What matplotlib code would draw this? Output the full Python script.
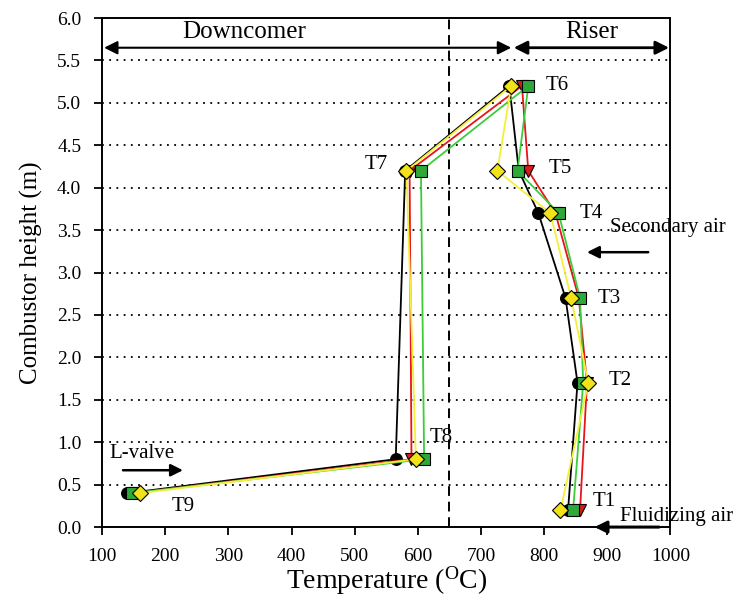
import matplotlib
matplotlib.use("Agg")
import matplotlib.pyplot as plt

# Sensor order along the loop: T9, T8, T7, T6, T5, T4, T3, T2, T1
labels = ["T9", "T8", "T7", "T6", "T5", "T4", "T3", "T2", "T1"]
height = [0.4, 0.8, 4.2, 5.2, 4.2, 3.7, 2.7, 1.7, 0.2]

temp_black = [140, 565, 580, 745, 760, 791, 834, 853, 838]
temp_red = [150, 590, 587, 765, 775, 818, 855, 868, 857]
temp_green = [148, 610, 605, 775, 758, 823, 857, 862, 846]
temp_yellow = [160, 597, 582, 748, 726, 810, 843, 870, 826]

label_x = [228, 637, 534, 821, 826, 875, 903, 921, 896]
label_y = [0.24, 1.05, 4.27, 5.21, 4.23, 3.70, 2.70, 1.73, 0.30]

serif = "Liberation Serif"
plt.rcParams["font.family"] = serif

fig = plt.figure(figsize=(7.35, 6.01), dpi=100)
ax = fig.add_axes([0.139, 0.123, 0.773, 0.847])

series = [
    (temp_black, "black", "o", "black", 8.5),
    (temp_red, "#e8141a", "v", "#d41c1c", 9),
    (temp_green, "#3ccc3c", "s", "#2fa83a", 8.5),
    (temp_yellow, "#f4f03a", "D", "#f2e21a", 8),
]
for i, (t, lc, m, fc, ms) in enumerate(series):
    ax.plot(t, height, color=lc, lw=1.3, marker=m, markerfacecolor=fc,
            markeredgecolor="black", markeredgewidth=0.8,
            markersize=ms, zorder=3 + i)

for lab, x, y in zip(labels, label_x, label_y):
    ax.text(x, y, lab, fontsize=15, ha="center", va="center", zorder=10)

ax.set_xlim(100, 1000)
ax.set_ylim(0, 6)
ax.set_xticks(range(100, 1001, 100))
ax.set_yticks([i * 0.5 for i in range(13)])
ax.set_yticklabels([f"{i*0.5:.1f}" for i in range(13)])
ax.tick_params(direction="out", length=6, width=1.3, labelsize=14)
ax.tick_params(axis="x", pad=9)
ax.tick_params(axis="y", pad=9)

for y in [i * 0.5 for i in range(1, 12)]:
    ax.axhline(y, color="black", lw=1.3, ls=(0, (1, 3)), zorder=1)

ax.axvline(650, color="black", lw=1.4, ls=(0, (5, 3)), zorder=2)

# Region arrows
ax.annotate("", xy=(103, 5.65), xytext=(748, 5.65),
            arrowprops=dict(arrowstyle="<|-|>", color="black", lw=1.5,
                            mutation_scale=20, shrinkA=0, shrinkB=0))
ax.annotate("", xy=(752, 5.65), xytext=(998, 5.65),
            arrowprops=dict(arrowstyle="<|-|>", color="black", lw=2.0,
                            mutation_scale=20, shrinkA=0, shrinkB=0))
ax.text(325, 5.83, "Downcomer", fontsize=18, ha="center", va="center")
ax.text(875, 5.83, "Riser", fontsize=18, ha="center", va="center")

# Side annotations
ax.annotate("", xy=(868, 3.24), xytext=(965, 3.24),
            arrowprops=dict(arrowstyle="-|>", color="black", lw=1.8,
                            mutation_scale=18, shrinkA=0, shrinkB=0),
            annotation_clip=False)
ax.text(905, 3.53, "Secondary air", fontsize=15, ha="left", va="center", clip_on=False)

ax.annotate("", xy=(880, 0.0), xytext=(982, 0.0),
            arrowprops=dict(arrowstyle="-|>", color="black", lw=2.2,
                            mutation_scale=18, shrinkA=0, shrinkB=0),
            annotation_clip=False)
ax.text(921, 0.12, "Fluidizing air", fontsize=15, ha="left", va="center", clip_on=False)

ax.annotate("", xy=(228, 0.67), xytext=(133, 0.67),
            arrowprops=dict(arrowstyle="-|>", color="black", lw=1.8,
                            mutation_scale=18, shrinkA=0, shrinkB=0))
ax.text(112, 0.87, "L-valve", fontsize=15, ha="left", va="center")

ax.set_xlabel("Temperature ($\\mathregular{^{O}}$C)", fontsize=20, labelpad=0)
ax.set_ylabel("Combustor height (m)", fontsize=18, labelpad=10)

for s in ax.spines.values():
    s.set_linewidth(1.4)

fig.savefig("out.png", dpi=100)
